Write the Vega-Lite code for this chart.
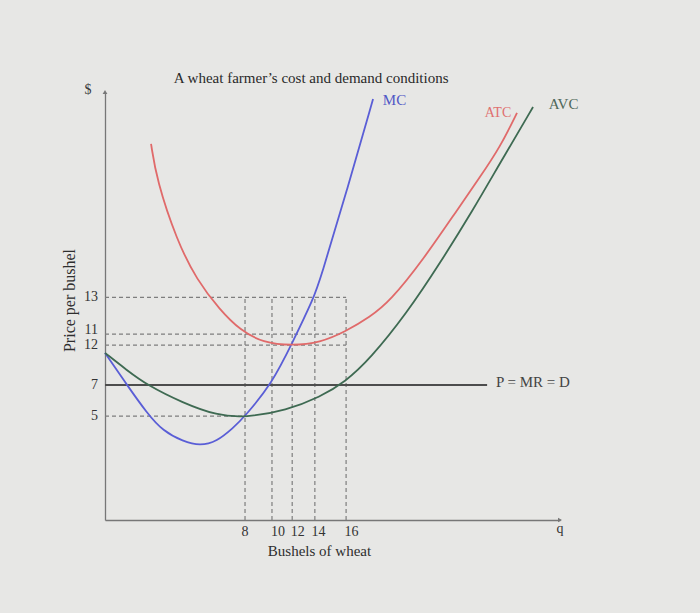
{
  "$schema": "https://vega.github.io/schema/vega-lite/v6.json",
  "width": 455,
  "height": 428,
  "autosize": {"type": "none"},
  "padding": {"left": 105, "top": 92, "right": 140, "bottom": 93},
  "background": "#e7e7e5",
  "config": {
    "view": {"stroke": null},
    "font": "Liberation Serif",
    "text": {"font": "Liberation Serif"}
  },
  "encoding": {
    "x": {"type": "quantitative"},
    "y": {"type": "quantitative"}
  },
  "layer": [
    {
      "data": {"values": [
        {"q": -3.43, "q2": 16.25, "p": 13.0, "p2": 13.0},
        {"q": -3.43, "q2": 16.25, "p": 10.53, "p2": 10.53},
        {"q": -3.43, "q2": 16.25, "p": 9.79, "p2": 9.79},
        {"q": -3.43, "q2": 8.0, "p": 5.0, "p2": 5.0},
        {"q": 8.0, "q2": 8.0, "p": -1.99, "p2": 13.0},
        {"q": 10.2, "q2": 10.2, "p": -1.99, "p2": 13.0},
        {"q": 11.85, "q2": 11.85, "p": -1.99, "p2": 13.0},
        {"q": 13.7, "q2": 13.7, "p": -1.99, "p2": 13.0},
        {"q": 16.25, "q2": 16.25, "p": -1.99, "p2": 13.0}
      ]},
      "mark": {"type": "rule", "strokeDash": [4, 3], "color": "#7e7e7e", "strokeWidth": 1.2},
      "encoding": {
        "x": {"field": "q", "type": "quantitative",
              "scale": {"domain": [-3.43, 33.71], "nice": false, "zero": false},
              "axis": {"title": "Bushels of wheat", "labels": false, "ticks": false, "grid": false,
                       "domainColor": "#777", "domainWidth": 1.3,
                       "titleFont": "Liberation Serif", "titleFontWeight": "normal", "titleFontSize": 15,
                       "titleColor": "#2e2e2e", "titleX": 214, "titleY": 30, "titleBaseline": "middle", "titleAlign": "center"}},
        "x2": {"field": "q2"},
        "y": {"field": "p", "type": "quantitative",
              "scale": {"domain": [-1.99, 26.83], "nice": false, "zero": false},
              "axis": {"title": "Price per bushel", "labels": false, "ticks": false, "grid": false,
                       "domainColor": "#777", "domainWidth": 1.3,
                       "titleFont": "Liberation Serif", "titleFontWeight": "normal", "titleFontSize": 16,
                       "titleColor": "#2e2e2e", "titleX": -36, "titleY": 208, "titleAngle": -90,
                       "titleBaseline": "middle", "titleAlign": "center"}},
        "y2": {"field": "p2"}
      }
    },
    {
      "data": {"values": [{"q": -3.43, "q2": 27.76, "p": 7.1, "p2": 7.1}]},
      "mark": {"type": "rule", "color": "#4d4d4d", "strokeWidth": 1.8},
      "encoding": {
        "x": {"field": "q", "type": "quantitative"},
        "x2": {"field": "q2"},
        "y": {"field": "p", "type": "quantitative"},
        "y2": {"field": "p2"}
      }
    },
    {
      "data": {"values": [
        {"series": "MC", "q": -3.43, "p": 9.26},
        {"series": "MC", "q": -1.63, "p": 7.1},
        {"series": "MC", "q": 0.0, "p": 5.2},
        {"series": "MC", "q": 1.3, "p": 4.0},
        {"series": "MC", "q": 2.94, "p": 3.3},
        {"series": "MC", "q": 4.33, "p": 3.0},
        {"series": "MC", "q": 5.7, "p": 3.3},
        {"series": "MC", "q": 7.02, "p": 4.2},
        {"series": "MC", "q": 8.0, "p": 5.0},
        {"series": "MC", "q": 10.2, "p": 7.2},
        {"series": "MC", "q": 11.84, "p": 9.9},
        {"series": "MC", "q": 13.63, "p": 13.0},
        {"series": "MC", "q": 14.12, "p": 14.17},
        {"series": "MC", "q": 16.33, "p": 20.23},
        {"series": "MC", "q": 18.45, "p": 26.36},
        {"series": "ATC", "q": 0.33, "p": 23.33},
        {"series": "ATC", "q": 0.79, "p": 20.9},
        {"series": "ATC", "q": 2.42, "p": 16.86},
        {"series": "ATC", "q": 4.06, "p": 14.17},
        {"series": "ATC", "q": 5.96, "p": 12.15},
        {"series": "ATC", "q": 7.59, "p": 10.8},
        {"series": "ATC", "q": 9.47, "p": 9.95},
        {"series": "ATC", "q": 11.84, "p": 9.75},
        {"series": "ATC", "q": 14.12, "p": 9.95},
        {"series": "ATC", "q": 16.2, "p": 10.7},
        {"series": "ATC", "q": 18.2, "p": 11.68},
        {"series": "ATC", "q": 19.84, "p": 12.75},
        {"series": "ATC", "q": 22.53, "p": 15.52},
        {"series": "ATC", "q": 25.31, "p": 18.88},
        {"series": "ATC", "q": 27.18, "p": 21.1},
        {"series": "ATC", "q": 28.82, "p": 23.12},
        {"series": "ATC", "q": 30.2, "p": 25.42},
        {"series": "AVC", "q": -3.43, "p": 9.26},
        {"series": "AVC", "q": -1.66, "p": 8.11},
        {"series": "AVC", "q": 0.0, "p": 7.1},
        {"series": "AVC", "q": 2.94, "p": 5.89},
        {"series": "AVC", "q": 5.71, "p": 5.05},
        {"series": "AVC", "q": 8.0, "p": 4.9},
        {"series": "AVC", "q": 11.4, "p": 5.4},
        {"series": "AVC", "q": 14.12, "p": 6.29},
        {"series": "AVC", "q": 16.16, "p": 7.3},
        {"series": "AVC", "q": 18.2, "p": 8.85},
        {"series": "AVC", "q": 21.22, "p": 11.95},
        {"series": "AVC", "q": 23.92, "p": 15.31},
        {"series": "AVC", "q": 26.61, "p": 18.88},
        {"series": "AVC", "q": 28.82, "p": 22.05},
        {"series": "AVC", "q": 31.51, "p": 25.82}
      ]},
      "mark": {"type": "line", "interpolate": "basis", "strokeWidth": 1.8, "clip": false},
      "encoding": {
        "x": {"field": "q", "type": "quantitative"},
        "y": {"field": "p", "type": "quantitative"},
        "detail": {"field": "series"},
        "color": {"field": "series", "type": "nominal",
                  "scale": {"domain": ["MC", "ATC", "AVC"], "range": ["#5a5ed6", "#e06a6a", "#3e6a52"]},
                  "legend": null}
      }
    },
    {
      "data": {"values": [
        {"shape": "triangle-up", "q": -3.43, "p": 26.83},
        {"shape": "triangle-right", "q": 33.71, "p": -1.99}
      ]},
      "mark": {"type": "point", "filled": true, "size": 22, "color": "#777", "opacity": 1, "clip": false},
      "encoding": {
        "x": {"field": "q", "type": "quantitative"},
        "y": {"field": "p", "type": "quantitative"},
        "shape": {"field": "shape", "type": "nominal", "scale": null}
      }
    },
    {
      "data": {"values": [
        {"text": "13", "q": -4.0, "p": 13.0},
        {"text": "11", "q": -4.0, "p": 10.8},
        {"text": "12", "q": -4.0, "p": 9.79},
        {"text": "7", "q": -4.0, "p": 7.1},
        {"text": "5", "q": -4.0, "p": 5.0}
      ]},
      "mark": {"type": "text", "align": "right", "baseline": "middle", "fontSize": 14, "color": "#333333", "clip": false},
      "encoding": {
        "x": {"field": "q", "type": "quantitative"},
        "y": {"field": "p", "type": "quantitative"},
        "text": {"field": "text"}
      }
    },
    {
      "data": {"values": [
        {"text": "8", "q": 8.0, "p": -2.81},
        {"text": "10", "q": 10.7, "p": -2.81},
        {"text": "12", "q": 12.3, "p": -2.81},
        {"text": "14", "q": 14.0, "p": -2.81},
        {"text": "16", "q": 16.7, "p": -2.81},
        {"text": "q", "q": 33.7, "p": -2.6}
      ]},
      "mark": {"type": "text", "align": "center", "baseline": "middle", "fontSize": 14, "color": "#333333", "clip": false},
      "encoding": {
        "x": {"field": "q", "type": "quantitative"},
        "y": {"field": "p", "type": "quantitative"},
        "text": {"field": "text"}
      }
    },
    {
      "data": {"values": [
        {"text": "A wheat farmer\u2019s cost and demand conditions", "q": 13.4, "p": 27.8, "c": "#2a2a2a", "st": "normal", "fs": 15},
        {"text": "$", "q": -4.82, "p": 26.96, "c": "#3a3a3a", "st": "normal", "fs": 14},
        {"text": "MC", "q": 20.2, "p": 26.3, "c": "#5258c6", "st": "italic", "fs": 15},
        {"text": "ATC", "q": 28.65, "p": 25.4, "c": "#e07070", "st": "italic", "fs": 14},
        {"text": "AVC", "q": 34.0, "p": 26.0, "c": "#4f675a", "st": "italic", "fs": 15},
        {"text": "P = MR = D", "q": 31.5, "p": 7.3, "c": "#444444", "st": "italic", "fs": 15}
      ]},
      "mark": {"type": "text", "align": "center", "baseline": "middle", "clip": false},
      "encoding": {
        "x": {"field": "q", "type": "quantitative"},
        "y": {"field": "p", "type": "quantitative"},
        "text": {"field": "text"},
        "color": {"field": "c", "type": "nominal", "scale": null},
        "fontStyle": {"field": "st", "type": "nominal", "scale": null},
        "size": {"field": "fs", "type": "quantitative", "scale": null}
      }
    }
  ]
}
